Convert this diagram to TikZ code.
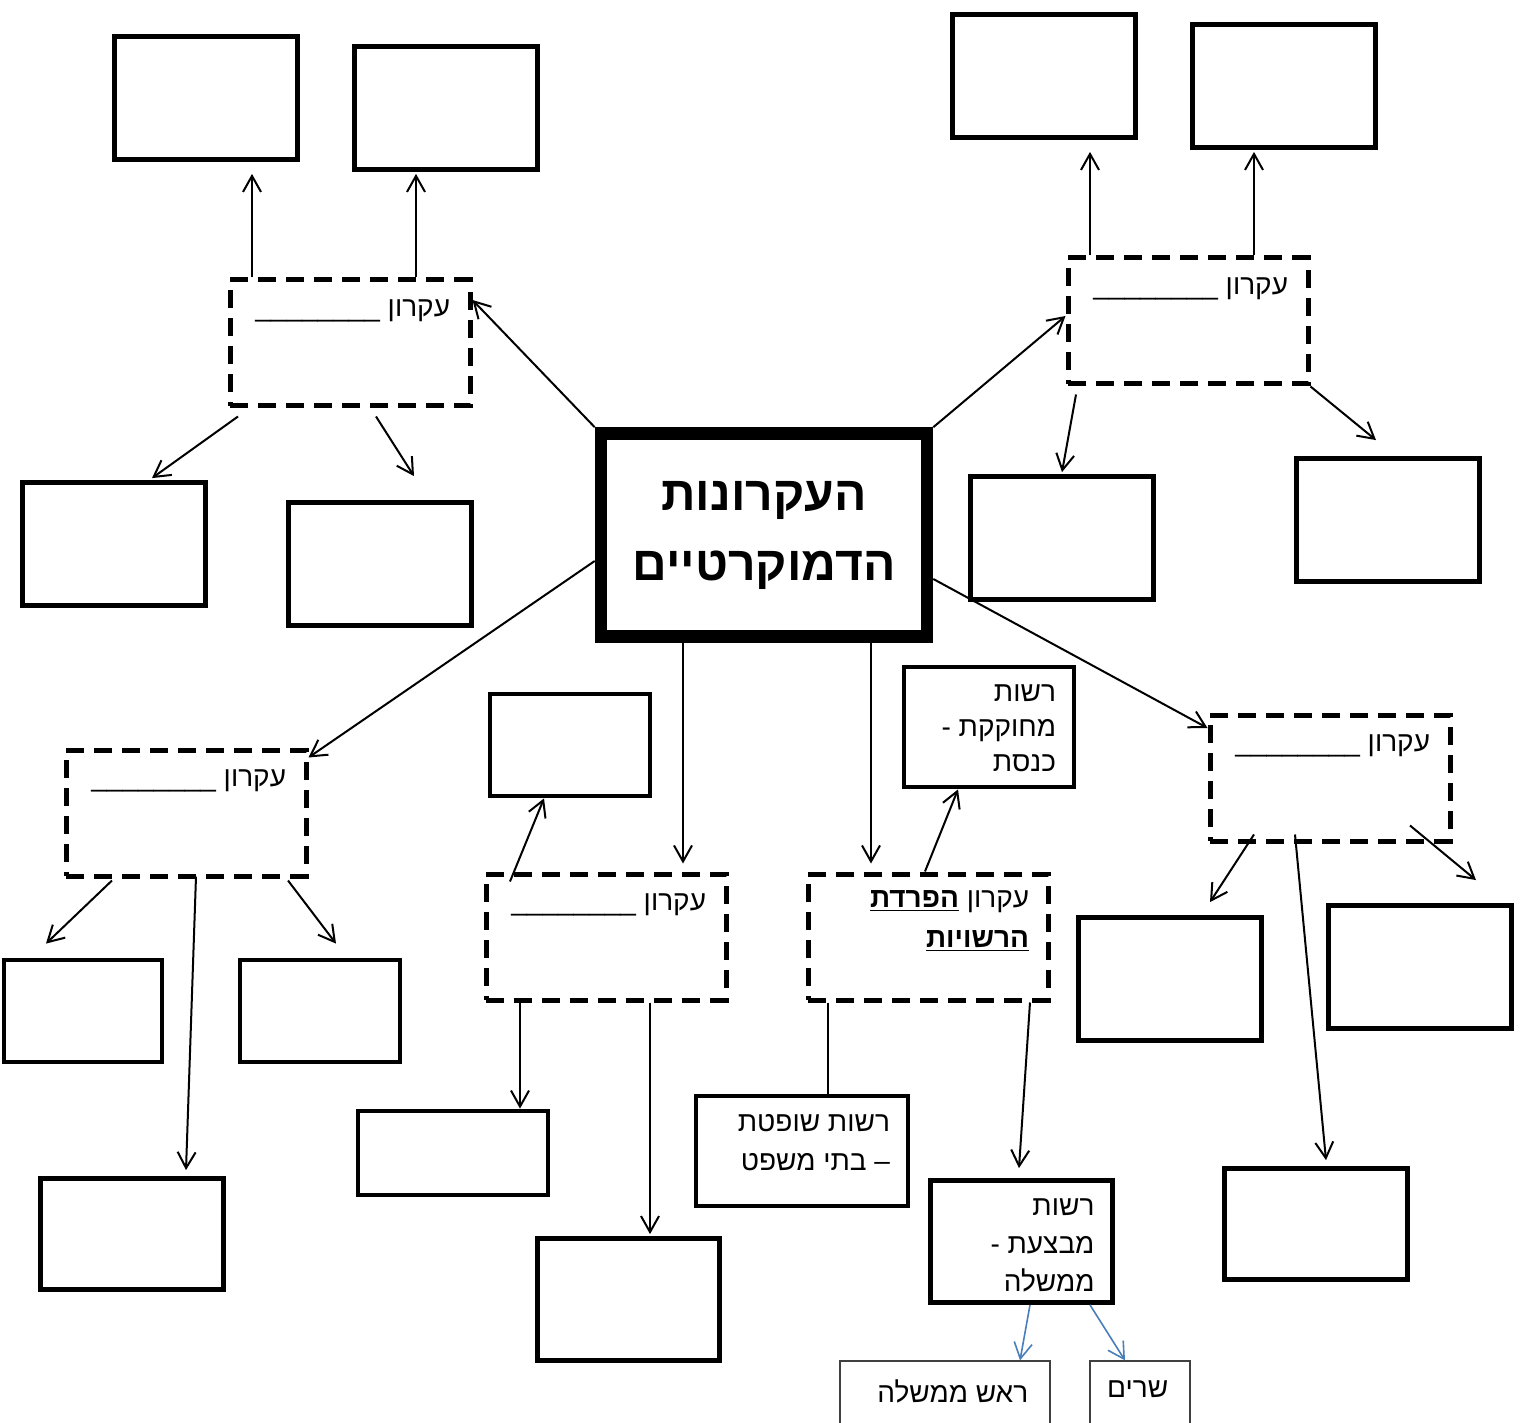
\documentclass[tikz,border=0pt]{standalone}
\usepackage{fontspec}
\usetikzlibrary{arrows.meta,positioning}
\setmainfont{Liberation Sans}
\newfontfamily\hebfont[Script=Hebrew]{Liberation Sans}
\TeXXeTstate=1
\definecolor{linkblue}{RGB}{74,126,187}
\tikzset{
	box/.style={draw, line width=2.4pt, minimum width=91.5pt, minimum height=61.5pt, inner sep=0pt},
	dashbox/.style={draw, line width=2.5pt, dash pattern=on 9pt off 5pt, minimum width=120pt, minimum height=63pt, inner sep=0pt},
	thinbox/.style={draw=black!75, line width=0.6pt, inner sep=0pt},
	mainbox/.style={draw, line width=6.3pt, minimum width=163pt, minimum height=101.5pt, inner sep=0pt, align=center, font=\hebfont\bfseries\fontsize{24}{35}\selectfont},
	txt/.style={inner sep=0pt, align=right, font=\hebfont\fontsize{14}{17.5}\selectfont},
	arr/.style={-{Straight Barb[length=8pt,width=9pt]}, line width=1pt},
	bluearr/.style={arr, draw=linkblue, line width=0.8pt}
}
\begin{document}
\begin{tikzpicture}[x=0.5pt,y=-0.5pt]
		\newcommand{\myheb}[1]{\beginR#1\endR}
		\newcommand{\myblank}{\_\_\_\_\_\_\_\_}
		\clip (0,0) rectangle (1527,1423);
		%The centre
		\node [mainbox] (main) at (764,535) {\myheb{העקרונות}\\\myheb{הדמוקרטיים}};
		%The principles
		\node [dashbox] (pr1) at (350,343) {};
		\node [dashbox] (pr2) at (1188,321) {};
		\node [dashbox] (pr3) at (1330,778) {};
		\node [dashbox] (pr4) at (186,813) {};
		\node [dashbox] (pr5) at (606,937) {};
		\node [dashbox] (pr6) at (928,937) {};
		\node [txt, below left=11pt and 11pt of pr1.north east] (pr1txt) {\myheb{עקרון \myblank}};
		\node [txt, below left=11pt and 11pt of pr2.north east] (pr2txt) {\myheb{עקרון \myblank}};
		\node [txt, below left=11pt and 11pt of pr3.north east] (pr3txt) {\myheb{עקרון \myblank}};
		\node [txt, below left=11pt and 11pt of pr4.north east] (pr4txt) {\myheb{עקרון \myblank}};
		\node [txt, below left=11pt and 11pt of pr5.north east] (pr5txt) {\myheb{עקרון \myblank}};
		\node [txt, font=\hebfont\fontsize{14}{20}\selectfont, below left=9.5pt and 10.5pt of pr6.north east] (pr6txt) {\myheb{עקרון \underline{\bfseries\myheb{הפרדת}}}\\\myheb{\underline{\bfseries\myheb{הרשויות}}}};
		%Boxes of the first principle
		\node [box] (b11) at (206,98) {};
		\node [box] (b12) at (446,108) {};
		\node [box] (b13) at (114,544) {};
		\node [box] (b14) at (380,564) {};
		%Boxes of the second principle
		\node [box] (b21) at (1044,76) {};
		\node [box] (b22) at (1284,86) {};
		\node [box] (b23) at (1062,538) {};
		\node [box] (b24) at (1388,520) {};
		%Boxes of the third principle
		\node [box] (b31) at (1170,979) {};
		\node [box] (b32) at (1420,967) {};
		\node [box, minimum height=55.5pt] (b33) at (1316,1224) {};
		%Boxes of the fourth principle
		\node [box, minimum width=79pt, minimum height=51pt] (b41) at (83,1011) {};
		\node [box, minimum width=80pt, minimum height=51pt] (b42) at (320,1011) {};
		\node [box, minimum height=55.5pt] (b43) at (132,1234) {};
		%Boxes of the fifth principle
		\node [box, minimum width=80pt, minimum height=51pt] (b51) at (570,745) {};
		\node [box, minimum width=95pt, minimum height=42pt] (b52) at (453,1153) {};
		\node [box, minimum width=91pt, minimum height=61pt] (b53) at (628.5,1299.5) {};
		%The three authorities
		\node [box, minimum width=85pt, minimum height=60pt] (legis) at (989,727) {};
		\node [box, minimum width=106pt, minimum height=55pt] (judic) at (802,1151) {};
		\node [box, minimum width=91pt, minimum height=61pt] (exec) at (1021.5,1241.5) {};
		\node [txt, below left=10pt and 10pt of legis.north east] (legistxt) {\myheb{רשות}\\\myheb{מחוקקת -}\\\myheb{כנסת}};
		\node [txt, font=\hebfont\fontsize{14}{19.5}\selectfont, below left=10pt and 10pt of judic.north east] (judictxt) {\myheb{רשות שופטת}\\\myheb{– בתי משפט}};
		\node [txt, font=\hebfont\fontsize{14}{19}\selectfont, below left=10pt and 10pt of exec.north east] (exectxt) {\myheb{רשות}\\\myheb{מבצעת -}\\\myheb{ממשלה}};
		%The government
		\node [thinbox, minimum width=105pt, minimum height=50pt] (pm) at (945,1411) {};
		\node [thinbox, minimum width=50pt, minimum height=50pt] (min) at (1140,1411) {};
		\node [txt, below left=9.5pt and 11pt of pm.north east] (pmtxt) {\myheb{ראש ממשלה}};
		\node [txt, below left=10pt and 11pt of min.north east] (mintxt) {\myheb{שרים}};
		%From the centre to the principles
		\draw [arr] (main.north west) -- ([yshift=21.5pt]pr1.east);
		\draw [arr] (main.north east) -- ([yshift=2.5pt]pr2.west);
		\draw [arr] ([yshift=-22pt]main.east) -- ([yshift=25pt]pr3.west);
		\draw [arr] ([yshift=-13pt]main.west) -- ([yshift=-5pt]pr4.north east);
		\draw [arr, shorten >=4pt] ([xshift=-40.5pt]main.south) -- ([xshift=38.5pt]pr5.north);
		\draw [arr, shorten >=4pt] ([xshift=53.5pt]main.south) -- ([xshift=-28.5pt]pr6.north);
		%First principle
		\draw [arr, shorten >=6pt] ([xshift=-49pt]pr1.north) -- ([xshift=23pt]b11.south);
		\draw [arr, shorten >=1pt] ([xshift=33pt]pr1.north) -- ([xshift=-15pt]b12.south);
		\draw [arr] ([xshift=-56pt,yshift=-4pt]pr1.south) -- ([xshift=19pt,yshift=1pt]b13.north);
		\draw [arr] ([xshift=13pt,yshift=-4pt]pr1.south) -- ([xshift=17pt,yshift=12pt]b14.north);
		%Second principle
		\draw [arr, shorten >=6pt] ([xshift=-49pt]pr2.north) -- ([xshift=23pt]b21.south);
		\draw [arr, shorten >=1pt] ([xshift=33pt]pr2.north) -- ([xshift=-15pt]b22.south);
		\draw [arr] ([xshift=-56pt,yshift=-4pt]pr2.south) -- ([yshift=1pt]b23.north);
		\draw [arr] (pr2.south east) -- ([xshift=-6pt,yshift=8pt]b24.north);
		%Third principle
		\draw [arr] ([xshift=-38pt,yshift=4.5pt]pr3.south) -- ([xshift=20pt,yshift=6.5pt]b31.north);
		\draw [arr] ([xshift=40pt,yshift=9pt]pr3.south) -- ([xshift=28pt,yshift=11.5pt]b32.north);
		\draw [arr] ([xshift=-17.5pt,yshift=4.5pt]pr3.south) -- ([xshift=5pt,yshift=3pt]b33.north);
		%Fourth principle
		\draw [arr] ([xshift=-37pt,yshift=-1pt]pr4.south) -- ([xshift=-18.5pt,yshift=7pt]b41.north);
		\draw [arr] ([xshift=51pt,yshift=-1pt]pr4.south) -- ([xshift=8pt,yshift=7pt]b42.north);
		\draw [arr] ([xshift=5pt,yshift=1pt]pr4.south) -- ([xshift=27pt,yshift=3pt]b43.north);
		%Fifth principle
		\draw [arr] ([xshift=-48pt,yshift=-5pt]pr5.north) -- ([xshift=-13pt]b51.south);
		\draw [arr] ([xshift=-43pt]pr5.south) -- ([xshift=33.5pt]b52.north);
		\draw [arr, shorten >=1pt] ([xshift=22pt]pr5.south) -- ([xshift=10.75pt]b53.north);
		%Separation of powers
		\draw [arr] ([xshift=-1.5pt]pr6.north) -- ([xshift=-15.5pt]legis.south);
		\draw [line width=1pt] ([xshift=-50pt]pr6.south) -- ([xshift=13pt]judic.north);
		\draw [arr] ([xshift=51pt]pr6.south) -- ([xshift=-1.25pt,yshift=5pt]exec.north);
		\draw [bluearr] ([xshift=4.25pt]exec.south) -- ([xshift=37.5pt]pm.north);
		\draw [bluearr] ([xshift=34.25pt]exec.south) -- ([xshift=-7.5pt]min.north);
\end{tikzpicture}
\end{document}
